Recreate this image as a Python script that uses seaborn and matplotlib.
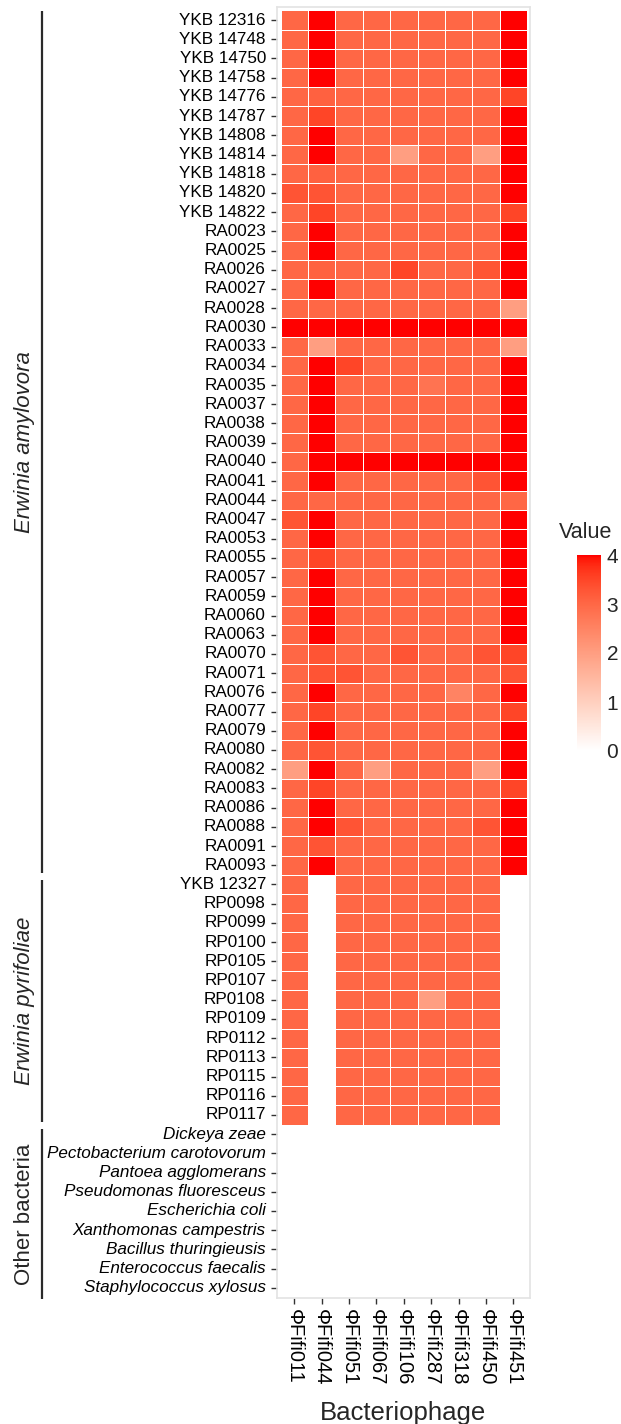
import numpy as np
import pandas as pd
import matplotlib
matplotlib.use("Agg")
import matplotlib.pyplot as plt
import matplotlib.transforms as mtransforms
from matplotlib.colors import ListedColormap
import seaborn as sns

# ---------------- data ----------------
phages = ["ΦFifi011", "ΦFifi044", "ΦFifi051", "ΦFifi067", "ΦFifi106",
          "ΦFifi287", "ΦFifi318", "ΦFifi450", "ΦFifi451"]

amylovora_strains = [
    "YKB 12316", "YKB 14748", "YKB 14750", "YKB 14758", "YKB 14776",
    "YKB 14787", "YKB 14808", "YKB 14814", "YKB 14818", "YKB 14820",
    "YKB 14822", "RA0023", "RA0025", "RA0026", "RA0027", "RA0028",
    "RA0030", "RA0033", "RA0034", "RA0035", "RA0037", "RA0038", "RA0039",
    "RA0040", "RA0041", "RA0044", "RA0047", "RA0053", "RA0055", "RA0057",
    "RA0059", "RA0060", "RA0063", "RA0070", "RA0071", "RA0076", "RA0077",
    "RA0079", "RA0080", "RA0082", "RA0083", "RA0086", "RA0088", "RA0091",
    "RA0093",
]
amylovora_values = [
    [3, 4, 3, 3, 3, 3, 3, 3, 4],
    [3, 4, 3, 3, 3, 3, 3, 3, 4],
    [3, 4, 3, 3, 3, 3, 3, 3, 4],
    [3, 4, 3, 3, 3, 3, 3, 3, 4],
    [3, 3.1, 3, 3, 3, 3, 3, 3, 3.5],
    [3, 3.5, 3, 3, 3, 3, 3, 3, 4],
    [3, 4, 3, 3, 3, 3, 3, 3, 4],
    [3, 4, 3, 3, 2, 3, 3, 2, 4],
    [3, 3.1, 3, 3, 3, 3, 3, 3, 4],
    [3.3, 3.3, 3, 3, 3, 3, 3, 3, 4],
    [3, 3.5, 3, 3, 3, 3, 3, 3, 3.5],
    [3, 4, 3, 3, 3, 3, 3, 3, 4],
    [3, 4, 3, 3, 3, 3, 3, 3, 4],
    [3, 3.1, 3, 3, 3.5, 3, 3, 3.3, 4],
    [3, 4, 3, 3, 3, 3, 3, 3, 4],
    [3, 3, 3, 3, 3, 3, 3, 3, 2],
    [4, 4, 4, 4, 4, 4, 4, 4, 4],
    [3, 2, 3, 3, 3, 3, 3, 3, 2],
    [3, 4, 3.5, 3, 3, 3, 3, 3, 4],
    [3, 4, 3, 3, 3, 2.8, 3, 3, 4],
    [3, 4, 3, 3, 3, 3, 3, 3, 4],
    [3, 4, 3, 3, 3, 3, 3, 3, 4],
    [3, 4, 3, 3, 3, 3, 3, 3, 4],
    [3, 4, 4, 4, 4, 4, 4, 4, 4],
    [3, 4, 3, 3, 3, 3, 3, 3.3, 4],
    [3, 3, 3, 3, 3, 3, 3, 3, 3],
    [3.3, 4, 3, 3, 3, 3, 3, 3, 4],
    [3, 4, 3, 3, 3, 3, 3, 3, 4],
    [3, 3.5, 3, 3, 3, 3, 3, 3, 4],
    [3, 4, 3, 3, 3, 3, 3, 3, 4],
    [3, 4, 3, 3, 3, 3, 3, 3, 4],
    [3, 4, 3, 3, 3, 3, 3, 3, 4],
    [3, 4, 3, 3, 3, 3, 3, 3, 4],
    [3, 3.3, 3, 3, 3.3, 3, 3, 3.3, 3.5],
    [3, 3.3, 3.3, 3, 3, 3, 3, 3, 3.3],
    [3, 4, 3, 3, 3, 3, 2.5, 3, 4],
    [3, 3.5, 3, 3, 3, 3, 3, 3, 3.5],
    [3, 4, 3, 3, 3, 3, 3, 3, 4],
    [3, 3.3, 3, 3, 3, 3, 3, 3, 4],
    [2, 4, 3, 2, 3, 3, 3, 2, 4],
    [3, 3.5, 3, 3, 3, 3, 3, 3, 3.5],
    [3, 4, 3, 3, 3, 3, 3, 3, 4],
    [3, 4, 3.3, 3, 3, 3, 3, 3.3, 4],
    [3, 3.3, 3, 3, 3, 3, 3, 3, 4],
    [3, 4, 3, 3, 3, 3, 3, 3, 4],
]

pyrifoliae_strains = [
    "YKB 12327", "RP0098", "RP0099", "RP0100", "RP0105", "RP0107", "RP0108",
    "RP0109", "RP0112", "RP0113", "RP0115", "RP0116", "RP0117",
]
pyrifoliae_values = [
    [3, 0, 3, 3, 3, 3, 3, 3, 0],
    [3, 0, 3, 3, 3, 3, 3, 3, 0],
    [3, 0, 3, 3, 3, 3, 3, 3, 0],
    [3, 0, 3, 3, 3, 3, 3, 3, 0],
    [3, 0, 3, 3, 3, 3, 3, 3, 0],
    [3, 0, 3, 3, 3, 3, 3, 3, 0],
    [3, 0, 3, 3, 3, 2, 3, 3, 0],
    [3, 0, 3, 3, 3, 3, 3, 3, 0],
    [3, 0, 3, 3, 3, 3, 3, 3, 0],
    [3, 0, 3, 3, 3, 3, 3, 3, 0],
    [3, 0, 3, 3, 3, 3, 3, 3, 0],
    [3, 0, 3, 3, 3, 3, 3, 3, 0],
    [3, 0, 3, 3, 3, 3, 3, 3, 0],
]

other_strains = [
    "Dickeya zeae", "Pectobacterium carotovorum", "Pantoea agglomerans",
    "Pseudomonas fluoresceus", "Escherichia coli", "Xanthomonas campestris",
    "Bacillus thuringieusis", "Enterococcus faecalis", "Staphylococcus xylosus",
]
other_values = [
    [0, 0, 0, 0, 0, 0, 0, 0, 0],
    [0, 0, 0, 0, 0, 0, 0, 0, 0],
    [0, 0, 0, 0, 0, 0, 0, 0, 0],
    [0, 0, 0, 0, 0, 0, 0, 0, 0],
    [0, 0, 0, 0, 0, 0, 0, 0, 0],
    [0, 0, 0, 0, 0, 0, 0, 0, 0],
    [0, 0, 0, 0, 0, 0, 0, 0, 0],
    [0, 0, 0, 0, 0, 0, 0, 0, 0],
    [0, 0, 0, 0, 0, 0, 0, 0, 0],
]

groups = [("Erwinia amylovora", amylovora_strains, "italic"),
          ("Erwinia pyrifoliae", pyrifoliae_strains, "italic"),
          ("Other bacteria", other_strains, "normal")]

strains = amylovora_strains + pyrifoliae_strains + other_strains
df = pd.DataFrame(amylovora_values + pyrifoliae_values + other_values,
                  index=strains, columns=phages)


# ---------------- white -> red gradient in Lab (like ggplot) ----------------
M = np.array([[0.4124, 0.3576, 0.1805],
              [0.2126, 0.7152, 0.0722],
              [0.0193, 0.1192, 0.9505]])
WHITE = np.array([0.95047, 1.0, 1.08883])


def to_lab(rgb):
    rgb = np.asarray(rgb, float)
    lin = np.where(rgb <= 0.04045, rgb / 12.92, ((rgb + 0.055) / 1.055) ** 2.4)
    xyz = (M @ lin) / WHITE
    f = np.where(xyz > 0.008856, np.cbrt(xyz), 7.787 * xyz + 16 / 116)
    return np.array([116 * f[1] - 16, 500 * (f[0] - f[1]), 200 * (f[1] - f[2])])


def from_lab(lab):
    L, a, b = lab
    fy = (L + 16) / 116
    f = np.array([fy + a / 500, fy, fy - b / 200])
    xyz = np.where(f > 0.2069, f ** 3, (f - 16 / 116) / 7.787) * WHITE[:, None]
    lin = np.clip(np.linalg.inv(M) @ xyz, 0, 1)
    return np.where(lin <= 0.0031308, 12.92 * lin, 1.055 * lin ** (1 / 2.4) - 0.055).T


t = np.linspace(0, 1, 256)
lab0, lab1 = to_lab([1, 1, 1]), to_lab([1, 0, 0])
cmap = ListedColormap(from_lab(lab0[:, None] * (1 - t) + lab1[:, None] * t))

# ---------------- figure ----------------
sns.set_theme(style="white")
plt.rcParams["font.family"] = ["Liberation Sans", "DejaVu Sans"]

W, H = 621, 1424
fig = plt.figure(figsize=(W / 100, H / 100), dpi=100)


def fbox(x0, y0, x1, y1):
    return [x0 / W, 1 - y1 / H, (x1 - x0) / W, (y1 - y0) / H]


ax = fig.add_axes(fbox(277, 7, 530, 1298))
cax = fig.add_axes(fbox(577, 555, 601, 751))

sns.heatmap(df, ax=ax, cmap=cmap, vmin=0, vmax=4, linewidths=0.5,
            linecolor="white", cbar_ax=cax, cbar_kws={"ticks": [0, 1, 2, 3, 4]})

nrows = len(strains)
ax.set_xlim(-0.135, len(phages) + 0.11)
ax.set_ylim(nrows + 0.03, -0.18)
for sp in ax.spines.values():
    sp.set_visible(True)
    sp.set_color("#E3E3E3")
    sp.set_linewidth(1.2)

ax.set_xticks(np.arange(len(phages)) + 0.5)
ax.set_xticklabels(phages, rotation=270, fontsize=14.5, color="black")
ax.set_yticks(np.arange(nrows) + 0.5)
ax.set_yticklabels(strains, rotation=0, fontsize=12.3, color="black")
for lbl in ax.get_yticklabels():
    if lbl.get_text() in other_strains:
        lbl.set_style("italic")
ax.tick_params(axis="both", length=4, width=1, color="#333333", bottom=True, left=True)
ax.tick_params(axis="y", pad=4)
ax.tick_params(axis="x", pad=4)
ax.set_xlabel("")
ax.set_ylabel("")

fig.text(403 / W, 1 - 1420 / H, "Bacteriophage", fontsize=18.5,
         ha="center", va="baseline")

# group brackets on the left
trans = mtransforms.blended_transform_factory(fig.transFigure, ax.transData)
start = 0
for name, members, style in groups:
    end = start + len(members)
    y0 = start + (0.05 if start == 0 else 0.25)
    y1 = end - 0.12 if end < nrows else end + 0.1
    ax.plot([42 / W, 42 / W], [y0, y1], transform=trans, color="#2a2a2a",
            lw=1.6, clip_on=False, solid_capstyle="butt")
    ax.text(25 / W, (y0 + y1) / 2, name, transform=trans, rotation=90,
            ha="center", va="center", fontsize=16, style=style)
    start = end

# colour bar legend
cb = ax.collections[0].colorbar
cb.outline.set_visible(False)
cax.tick_params(which="major", direction="in", length=4, width=1,
                color="white", left=True, right=True, labelleft=False,
                labelright=True, labelsize=15, pad=4)
fig.text(559 / W, 1 - 532 / H, "Value", fontsize=15.5, ha="left", va="center")

fig.savefig("out.png", dpi=100)
